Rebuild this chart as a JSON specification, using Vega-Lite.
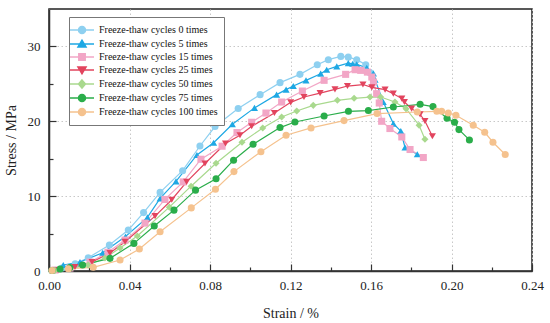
{
  "$schema": "https://vega.github.io/schema/vega-lite/v6.json",
  "width": 483,
  "height": 262,
  "autosize": "none",
  "padding": {"left": 49, "top": 9, "right": 18, "bottom": 52},
  "config": {
    "view": {"stroke": "#222", "strokeWidth": 1.5},
    "font": "Liberation Serif",
    "axis": {"labelFont": "Liberation Serif", "titleFont": "Liberation Serif", "titleFontWeight": "normal", "labelColor": "#222", "titleColor": "#222", "labelFontSize": 13, "titleFontSize": 14}
  },
  "data": {"values": [
    {"s": "Freeze-thaw cycles 0 times", "x": 0.0015, "y": 0.07},
    {"s": "Freeze-thaw cycles 0 times", "x": 0.0065, "y": 0.4},
    {"s": "Freeze-thaw cycles 0 times", "x": 0.013, "y": 0.95},
    {"s": "Freeze-thaw cycles 0 times", "x": 0.0195, "y": 1.77},
    {"s": "Freeze-thaw cycles 0 times", "x": 0.030, "y": 3.47},
    {"s": "Freeze-thaw cycles 0 times", "x": 0.0394, "y": 5.47},
    {"s": "Freeze-thaw cycles 0 times", "x": 0.047, "y": 7.8},
    {"s": "Freeze-thaw cycles 0 times", "x": 0.0552, "y": 10.5},
    {"s": "Freeze-thaw cycles 0 times", "x": 0.0664, "y": 13.4},
    {"s": "Freeze-thaw cycles 0 times", "x": 0.075, "y": 16.7},
    {"s": "Freeze-thaw cycles 0 times", "x": 0.0825, "y": 19.3},
    {"s": "Freeze-thaw cycles 0 times", "x": 0.094, "y": 21.7},
    {"s": "Freeze-thaw cycles 0 times", "x": 0.1049, "y": 23.56},
    {"s": "Freeze-thaw cycles 0 times", "x": 0.1148, "y": 25.16},
    {"s": "Freeze-thaw cycles 0 times", "x": 0.1247, "y": 26.27},
    {"s": "Freeze-thaw cycles 0 times", "x": 0.1333, "y": 27.56},
    {"s": "Freeze-thaw cycles 0 times", "x": 0.1388, "y": 28.23},
    {"s": "Freeze-thaw cycles 0 times", "x": 0.145, "y": 28.67},
    {"s": "Freeze-thaw cycles 0 times", "x": 0.1487, "y": 28.57},
    {"s": "Freeze-thaw cycles 0 times", "x": 0.1529, "y": 28.23},
    {"s": "Freeze-thaw cycles 0 times", "x": 0.1574, "y": 27.56},
    {"s": "Freeze-thaw cycles 0 times", "x": 0.1595, "y": 26.5},

    {"s": "Freeze-thaw cycles 5 times", "x": 0.003, "y": 0.2},
    {"s": "Freeze-thaw cycles 5 times", "x": 0.0071, "y": 0.8},
    {"s": "Freeze-thaw cycles 5 times", "x": 0.0154, "y": 1.2},
    {"s": "Freeze-thaw cycles 5 times", "x": 0.0267, "y": 2.44},
    {"s": "Freeze-thaw cycles 5 times", "x": 0.038, "y": 4.6},
    {"s": "Freeze-thaw cycles 5 times", "x": 0.0489, "y": 7.16},
    {"s": "Freeze-thaw cycles 5 times", "x": 0.0552, "y": 9.69},
    {"s": "Freeze-thaw cycles 5 times", "x": 0.0631, "y": 11.97},
    {"s": "Freeze-thaw cycles 5 times", "x": 0.0735, "y": 15.5},
    {"s": "Freeze-thaw cycles 5 times", "x": 0.0818, "y": 17.13},
    {"s": "Freeze-thaw cycles 5 times", "x": 0.0911, "y": 19.6},
    {"s": "Freeze-thaw cycles 5 times", "x": 0.1021, "y": 21.79},
    {"s": "Freeze-thaw cycles 5 times", "x": 0.1131, "y": 23.56},
    {"s": "Freeze-thaw cycles 5 times", "x": 0.1178, "y": 24.23},
    {"s": "Freeze-thaw cycles 5 times", "x": 0.1214, "y": 24.71},
    {"s": "Freeze-thaw cycles 5 times", "x": 0.1277, "y": 25.47},
    {"s": "Freeze-thaw cycles 5 times", "x": 0.135, "y": 26.36},
    {"s": "Freeze-thaw cycles 5 times", "x": 0.138, "y": 26.89},
    {"s": "Freeze-thaw cycles 5 times", "x": 0.143, "y": 27.33},
    {"s": "Freeze-thaw cycles 5 times", "x": 0.1487, "y": 27.77},
    {"s": "Freeze-thaw cycles 5 times", "x": 0.1509, "y": 27.69},
    {"s": "Freeze-thaw cycles 5 times", "x": 0.1529, "y": 27.6},
    {"s": "Freeze-thaw cycles 5 times", "x": 0.1579, "y": 27.16},
    {"s": "Freeze-thaw cycles 5 times", "x": 0.1612, "y": 26.4},
    {"s": "Freeze-thaw cycles 5 times", "x": 0.162, "y": 25.56},
    {"s": "Freeze-thaw cycles 5 times", "x": 0.1661, "y": 22.57},
    {"s": "Freeze-thaw cycles 5 times", "x": 0.1711, "y": 19.69},
    {"s": "Freeze-thaw cycles 5 times", "x": 0.1748, "y": 18.7},
    {"s": "Freeze-thaw cycles 5 times", "x": 0.1769, "y": 16.5},
    {"s": "Freeze-thaw cycles 5 times", "x": 0.183, "y": 15.6},

    {"s": "Freeze-thaw cycles 15 times", "x": 0.003, "y": 0.13},
    {"s": "Freeze-thaw cycles 15 times", "x": 0.0104, "y": 0.4},
    {"s": "Freeze-thaw cycles 15 times", "x": 0.0204, "y": 1.2},
    {"s": "Freeze-thaw cycles 15 times", "x": 0.0293, "y": 2.5},
    {"s": "Freeze-thaw cycles 15 times", "x": 0.0378, "y": 4.13},
    {"s": "Freeze-thaw cycles 15 times", "x": 0.0477, "y": 6.4},
    {"s": "Freeze-thaw cycles 15 times", "x": 0.0576, "y": 9.56},
    {"s": "Freeze-thaw cycles 15 times", "x": 0.0667, "y": 11.9},
    {"s": "Freeze-thaw cycles 15 times", "x": 0.0755, "y": 14.93},
    {"s": "Freeze-thaw cycles 15 times", "x": 0.086, "y": 16.67},
    {"s": "Freeze-thaw cycles 15 times", "x": 0.0934, "y": 18.49},
    {"s": "Freeze-thaw cycles 15 times", "x": 0.1007, "y": 19.87},
    {"s": "Freeze-thaw cycles 15 times", "x": 0.1078, "y": 21.1},
    {"s": "Freeze-thaw cycles 15 times", "x": 0.1156, "y": 22.57},
    {"s": "Freeze-thaw cycles 15 times", "x": 0.1259, "y": 24.04},
    {"s": "Freeze-thaw cycles 15 times", "x": 0.1367, "y": 25.47},
    {"s": "Freeze-thaw cycles 15 times", "x": 0.1474, "y": 26.27},
    {"s": "Freeze-thaw cycles 15 times", "x": 0.1521, "y": 26.89},
    {"s": "Freeze-thaw cycles 15 times", "x": 0.1549, "y": 26.8},
    {"s": "Freeze-thaw cycles 15 times", "x": 0.1582, "y": 26.57},
    {"s": "Freeze-thaw cycles 15 times", "x": 0.1604, "y": 25.91},
    {"s": "Freeze-thaw cycles 15 times", "x": 0.1612, "y": 25.24},
    {"s": "Freeze-thaw cycles 15 times", "x": 0.1628, "y": 23.69},
    {"s": "Freeze-thaw cycles 15 times", "x": 0.1641, "y": 22.44},
    {"s": "Freeze-thaw cycles 15 times", "x": 0.1653, "y": 20.0},
    {"s": "Freeze-thaw cycles 15 times", "x": 0.1694, "y": 19.03},
    {"s": "Freeze-thaw cycles 15 times", "x": 0.1753, "y": 17.91},
    {"s": "Freeze-thaw cycles 15 times", "x": 0.1794, "y": 16.23},
    {"s": "Freeze-thaw cycles 15 times", "x": 0.186, "y": 15.16},

    {"s": "Freeze-thaw cycles 25 times", "x": 0.0045, "y": 0.13},
    {"s": "Freeze-thaw cycles 25 times", "x": 0.0129, "y": 0.53},
    {"s": "Freeze-thaw cycles 25 times", "x": 0.0214, "y": 1.2},
    {"s": "Freeze-thaw cycles 25 times", "x": 0.0303, "y": 2.4},
    {"s": "Freeze-thaw cycles 25 times", "x": 0.0378, "y": 3.9},
    {"s": "Freeze-thaw cycles 25 times", "x": 0.0527, "y": 7.33},
    {"s": "Freeze-thaw cycles 25 times", "x": 0.061, "y": 9.52},
    {"s": "Freeze-thaw cycles 25 times", "x": 0.0684, "y": 11.9},
    {"s": "Freeze-thaw cycles 25 times", "x": 0.0775, "y": 14.36},
    {"s": "Freeze-thaw cycles 25 times", "x": 0.0877, "y": 17.03},
    {"s": "Freeze-thaw cycles 25 times", "x": 0.0949, "y": 18.13},
    {"s": "Freeze-thaw cycles 25 times", "x": 0.1007, "y": 19.33},
    {"s": "Freeze-thaw cycles 25 times", "x": 0.112, "y": 21.1},
    {"s": "Freeze-thaw cycles 25 times", "x": 0.1201, "y": 22.53},
    {"s": "Freeze-thaw cycles 25 times", "x": 0.1267, "y": 23.24},
    {"s": "Freeze-thaw cycles 25 times", "x": 0.1347, "y": 23.77},
    {"s": "Freeze-thaw cycles 25 times", "x": 0.1421, "y": 24.27},
    {"s": "Freeze-thaw cycles 25 times", "x": 0.1483, "y": 24.71},
    {"s": "Freeze-thaw cycles 25 times", "x": 0.156, "y": 24.91},
    {"s": "Freeze-thaw cycles 25 times", "x": 0.1604, "y": 24.53},
    {"s": "Freeze-thaw cycles 25 times", "x": 0.167, "y": 24.23},
    {"s": "Freeze-thaw cycles 25 times", "x": 0.1711, "y": 23.69},
    {"s": "Freeze-thaw cycles 25 times", "x": 0.1753, "y": 23.03},
    {"s": "Freeze-thaw cycles 25 times", "x": 0.1766, "y": 22.57},
    {"s": "Freeze-thaw cycles 25 times", "x": 0.1802, "y": 21.69},
    {"s": "Freeze-thaw cycles 25 times", "x": 0.1844, "y": 20.93},
    {"s": "Freeze-thaw cycles 25 times", "x": 0.1868, "y": 20.04},
    {"s": "Freeze-thaw cycles 25 times", "x": 0.1905, "y": 18.0},

    {"s": "Freeze-thaw cycles 50 times", "x": 0.003, "y": 0.07},
    {"s": "Freeze-thaw cycles 50 times", "x": 0.0104, "y": 0.27},
    {"s": "Freeze-thaw cycles 50 times", "x": 0.0194, "y": 0.8},
    {"s": "Freeze-thaw cycles 50 times", "x": 0.0278, "y": 1.73},
    {"s": "Freeze-thaw cycles 50 times", "x": 0.0353, "y": 3.07},
    {"s": "Freeze-thaw cycles 50 times", "x": 0.0439, "y": 4.67},
    {"s": "Freeze-thaw cycles 50 times", "x": 0.0598, "y": 8.53},
    {"s": "Freeze-thaw cycles 50 times", "x": 0.0706, "y": 11.33},
    {"s": "Freeze-thaw cycles 50 times", "x": 0.083, "y": 14.4},
    {"s": "Freeze-thaw cycles 50 times", "x": 0.0959, "y": 17.2},
    {"s": "Freeze-thaw cycles 50 times", "x": 0.1062, "y": 19.1},
    {"s": "Freeze-thaw cycles 50 times", "x": 0.1156, "y": 20.57},
    {"s": "Freeze-thaw cycles 50 times", "x": 0.1231, "y": 21.37},
    {"s": "Freeze-thaw cycles 50 times", "x": 0.1313, "y": 22.13},
    {"s": "Freeze-thaw cycles 50 times", "x": 0.1433, "y": 22.8},
    {"s": "Freeze-thaw cycles 50 times", "x": 0.1516, "y": 23.07},
    {"s": "Freeze-thaw cycles 50 times", "x": 0.1595, "y": 23.24},
    {"s": "Freeze-thaw cycles 50 times", "x": 0.1648, "y": 23.24},
    {"s": "Freeze-thaw cycles 50 times", "x": 0.1719, "y": 22.57},
    {"s": "Freeze-thaw cycles 50 times", "x": 0.1774, "y": 21.69},
    {"s": "Freeze-thaw cycles 50 times", "x": 0.1839, "y": 19.47},
    {"s": "Freeze-thaw cycles 50 times", "x": 0.1868, "y": 17.6},

    {"s": "Freeze-thaw cycles 75 times", "x": 0.0015, "y": 0.07},
    {"s": "Freeze-thaw cycles 75 times", "x": 0.0055, "y": 0.27},
    {"s": "Freeze-thaw cycles 75 times", "x": 0.0104, "y": 0.47},
    {"s": "Freeze-thaw cycles 75 times", "x": 0.0167, "y": 0.8},
    {"s": "Freeze-thaw cycles 75 times", "x": 0.0303, "y": 1.69},
    {"s": "Freeze-thaw cycles 75 times", "x": 0.0422, "y": 3.69},
    {"s": "Freeze-thaw cycles 75 times", "x": 0.0523, "y": 6.0},
    {"s": "Freeze-thaw cycles 75 times", "x": 0.0621, "y": 8.13},
    {"s": "Freeze-thaw cycles 75 times", "x": 0.0728, "y": 10.8},
    {"s": "Freeze-thaw cycles 75 times", "x": 0.083, "y": 12.33},
    {"s": "Freeze-thaw cycles 75 times", "x": 0.0917, "y": 14.8},
    {"s": "Freeze-thaw cycles 75 times", "x": 0.1014, "y": 16.93},
    {"s": "Freeze-thaw cycles 75 times", "x": 0.1148, "y": 19.16},
    {"s": "Freeze-thaw cycles 75 times", "x": 0.1222, "y": 19.91},
    {"s": "Freeze-thaw cycles 75 times", "x": 0.1367, "y": 20.71},
    {"s": "Freeze-thaw cycles 75 times", "x": 0.1488, "y": 21.33},
    {"s": "Freeze-thaw cycles 75 times", "x": 0.1587, "y": 21.43},
    {"s": "Freeze-thaw cycles 75 times", "x": 0.1711, "y": 21.91},
    {"s": "Freeze-thaw cycles 75 times", "x": 0.1844, "y": 22.27},
    {"s": "Freeze-thaw cycles 75 times", "x": 0.1908, "y": 21.96},
    {"s": "Freeze-thaw cycles 75 times", "x": 0.1978, "y": 20.4},
    {"s": "Freeze-thaw cycles 75 times", "x": 0.2015, "y": 19.87},
    {"s": "Freeze-thaw cycles 75 times", "x": 0.2037, "y": 18.89},
    {"s": "Freeze-thaw cycles 75 times", "x": 0.2089, "y": 17.51},

    {"s": "Freeze-thaw cycles 100 times", "x": 0.0015, "y": 0.07},
    {"s": "Freeze-thaw cycles 100 times", "x": 0.0096, "y": 0.3},
    {"s": "Freeze-thaw cycles 100 times", "x": 0.022, "y": 0.49},
    {"s": "Freeze-thaw cycles 100 times", "x": 0.0353, "y": 1.47},
    {"s": "Freeze-thaw cycles 100 times", "x": 0.0449, "y": 2.93},
    {"s": "Freeze-thaw cycles 100 times", "x": 0.0552, "y": 5.24},
    {"s": "Freeze-thaw cycles 100 times", "x": 0.0707, "y": 8.43},
    {"s": "Freeze-thaw cycles 100 times", "x": 0.0827, "y": 10.92},
    {"s": "Freeze-thaw cycles 100 times", "x": 0.0919, "y": 13.28},
    {"s": "Freeze-thaw cycles 100 times", "x": 0.1053, "y": 15.93},
    {"s": "Freeze-thaw cycles 100 times", "x": 0.1178, "y": 18.13},
    {"s": "Freeze-thaw cycles 100 times", "x": 0.1302, "y": 19.11},
    {"s": "Freeze-thaw cycles 100 times", "x": 0.1466, "y": 20.09},
    {"s": "Freeze-thaw cycles 100 times", "x": 0.163, "y": 21.03},
    {"s": "Freeze-thaw cycles 100 times", "x": 0.183, "y": 21.24},
    {"s": "Freeze-thaw cycles 100 times", "x": 0.1927, "y": 21.33},
    {"s": "Freeze-thaw cycles 100 times", "x": 0.1951, "y": 21.33},
    {"s": "Freeze-thaw cycles 100 times", "x": 0.1984, "y": 21.11},
    {"s": "Freeze-thaw cycles 100 times", "x": 0.2022, "y": 20.8},
    {"s": "Freeze-thaw cycles 100 times", "x": 0.2108, "y": 19.47},
    {"s": "Freeze-thaw cycles 100 times", "x": 0.2165, "y": 18.53},
    {"s": "Freeze-thaw cycles 100 times", "x": 0.2206, "y": 17.2},
    {"s": "Freeze-thaw cycles 100 times", "x": 0.2267, "y": 15.56}
  ]},
  "layer": [
    {
      "mark": {"type": "line", "strokeWidth": 1.2},
      "encoding": {
        "x": {"field": "x", "type": "quantitative", "scale": {"domain": [0, 0.24], "nice": false},
          "axis": {"orient": "bottom", "values": [0.02, 0.06, 0.1, 0.14, 0.18, 0.22], "labels": false, "grid": false, "domain": false, "tickSize": -4, "tickColor": "#333", "tickWidth": 1.2, "title": null}},
        "y": {"field": "y", "type": "quantitative", "scale": {"domain": [0, 35], "nice": false},
          "axis": {"orient": "left", "values": [5, 15, 25], "labels": false, "grid": false, "domain": false, "tickSize": -4, "tickColor": "#333", "tickWidth": 1.2, "title": null}},
        "color": {"field": "s", "type": "nominal", "legend": null,
          "scale": {"domain": ["Freeze-thaw cycles 0 times", "Freeze-thaw cycles 5 times", "Freeze-thaw cycles 15 times", "Freeze-thaw cycles 25 times", "Freeze-thaw cycles 50 times", "Freeze-thaw cycles 75 times", "Freeze-thaw cycles 100 times"],
                    "range": ["#8ed0f0", "#1ea8e4", "#f2a6c6", "#e2445e", "#a9d98e", "#2aad4a", "#f5c28e"]}}
      }
    },
    {
      "mark": {"type": "point", "filled": true, "opacity": 1, "size": 50},
      "encoding": {
        "x": {"field": "x", "type": "quantitative",
          "axis": {"orient": "bottom", "values": [0, 0.04, 0.08, 0.12, 0.16, 0.2, 0.24], "format": ".2f", "title": "Strain / %", "grid": true, "gridDash": [1.5, 2.5], "gridColor": "#c8c8c8", "domainColor": "#333", "domainWidth": 1.5, "tickSize": -7, "tickColor": "#333", "tickWidth": 1.2, "labelPadding": 15, "titlePadding": 14, "labelFlush": false, "labelBound": false}},
        "y": {"field": "y", "type": "quantitative",
          "axis": {"orient": "left", "values": [0, 10, 20, 30], "title": "Stress / MPa", "grid": true, "gridDash": [1.5, 2.5], "gridColor": "#c8c8c8", "domainColor": "#333", "domainWidth": 1.5, "tickSize": -7, "tickColor": "#333", "tickWidth": 1.2, "labelPadding": 16, "titlePadding": 9}},
        "color": {"field": "s", "type": "nominal", "legend": null},
        "shape": {"field": "s", "type": "nominal", "legend": null,
          "scale": {"domain": ["Freeze-thaw cycles 0 times", "Freeze-thaw cycles 5 times", "Freeze-thaw cycles 15 times", "Freeze-thaw cycles 25 times", "Freeze-thaw cycles 50 times", "Freeze-thaw cycles 75 times", "Freeze-thaw cycles 100 times"],
                    "range": ["circle", "triangle-up", "square", "triangle-down", "diamond", "circle", "circle"]}}
      }
    },
    {
      "transform": [{"filter": "false"}],
      "mark": {"type": "point", "filled": true, "opacity": 1, "strokeWidth": 1.3},
      "encoding": {
        "x": {"field": "x", "type": "quantitative", "axis": null},
        "y": {"field": "y", "type": "quantitative", "axis": null},
        "fill": {"field": "s", "type": "nominal",
          "scale": {"domain": ["Freeze-thaw cycles 0 times", "Freeze-thaw cycles 5 times", "Freeze-thaw cycles 15 times", "Freeze-thaw cycles 25 times", "Freeze-thaw cycles 50 times", "Freeze-thaw cycles 75 times", "Freeze-thaw cycles 100 times"],
                    "range": ["#8ed0f0", "#1ea8e4", "#f2a6c6", "#e2445e", "#a9d98e", "#2aad4a", "#f5c28e"]},
          "legend": {"orient": "none", "legendX": 20, "legendY": 8, "title": null, "symbolSize": 144, "labelFont": "Liberation Serif", "labelFontSize": 10, "labelColor": "#111", "labelOffset": 10, "rowPadding": -1, "strokeColor": "#777", "fillColor": "white", "padding": 6, "symbolStrokeWidth": 1.3}},
        "stroke": {"field": "s", "type": "nominal",
          "scale": {"domain": ["Freeze-thaw cycles 0 times", "Freeze-thaw cycles 5 times", "Freeze-thaw cycles 15 times", "Freeze-thaw cycles 25 times", "Freeze-thaw cycles 50 times", "Freeze-thaw cycles 75 times", "Freeze-thaw cycles 100 times"],
                    "range": ["#8ed0f0", "#1ea8e4", "#f2a6c6", "#e2445e", "#a9d98e", "#2aad4a", "#f5c28e"]},
          "legend": {"orient": "none", "legendX": 20, "legendY": 8, "title": null}},
        "shape": {"field": "s", "type": "nominal",
          "scale": {"domain": ["Freeze-thaw cycles 0 times", "Freeze-thaw cycles 5 times", "Freeze-thaw cycles 15 times", "Freeze-thaw cycles 25 times", "Freeze-thaw cycles 50 times", "Freeze-thaw cycles 75 times", "Freeze-thaw cycles 100 times"],
                    "range": ["M-2,0H2M0.6,0A0.6,0.6 0 1 1 -0.6,0A0.6,0.6 0 1 1 0.6,0", "M-2,0H2M0,-0.65L0.7,0.5L-0.7,0.5Z", "M-2,0H2M-0.55,-0.55H0.55V0.55H-0.55Z", "M-2,0H2M0,0.65L0.7,-0.5L-0.7,-0.5Z", "M-2,0H2M0,-0.7L0.6,0L0,0.7L-0.6,0Z", "M-2,0H2M0.6,0A0.6,0.6 0 1 1 -0.6,0A0.6,0.6 0 1 1 0.6,0", "M-2,0H2M0.6,0A0.6,0.6 0 1 1 -0.6,0A0.6,0.6 0 1 1 0.6,0"]},
          "legend": {"orient": "none", "legendX": 20, "legendY": 8, "title": null}}
      }
    }
  ],
  "resolve": {"scale": {"shape": "independent", "fill": "independent", "stroke": "independent"}, "axis": {"x": "independent", "y": "independent"}}
}
